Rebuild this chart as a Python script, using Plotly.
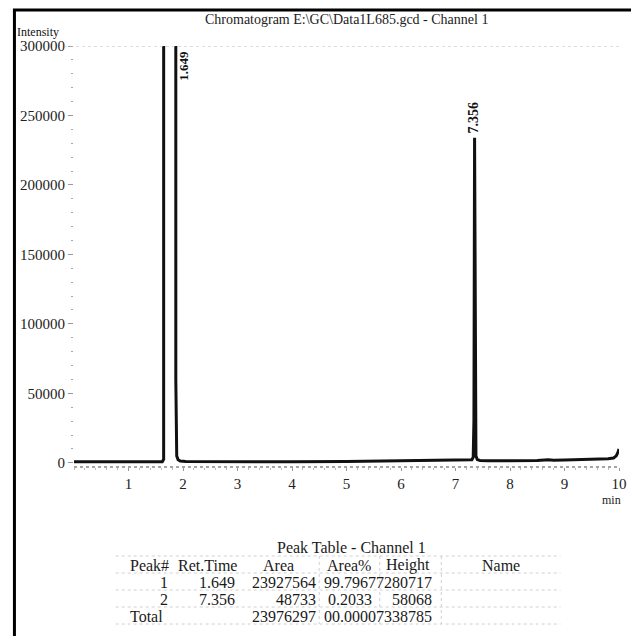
import plotly.graph_objects as go

# ---------------- data ----------------
time_min = [0.00, 0.50, 1.00, 1.40, 1.62, 1.645, 1.652, 1.70, 1.80, 1.862, 1.868, 1.874, 1.885, 1.91, 1.95, 2.05,
            2.50, 3.00, 4.00, 5.00, 6.00, 6.80, 7.20, 7.30, 7.325, 7.338, 7.350, 7.362, 7.375, 7.40, 7.45,
            7.60, 8.00, 8.50, 8.70, 8.80, 9.00, 9.50, 9.80, 9.90, 9.95, 9.98, 10.00]
intensity = [700, 700, 700, 750, 800, 2500, 7280717, 7280717, 7280717, 7280717, 60000, 14000, 5000, 2200, 1300, 900,
             800, 700, 800, 1000, 1300, 1700, 2000, 2200, 4000, 30000, 234000, 30000, 5000, 2300, 1700,
             1500, 1500, 1700, 2200, 1900, 2000, 2400, 3000, 3500, 5000, 7500, 10000]

peak_rt = [1.649, 7.356]
peak_labels = ["1.649", "7.356"]
peak_label_height = [300000, 234000]

x_ticks = [1, 2, 3, 4, 5, 6, 7, 8, 9, 10]
y_ticks = [0, 50000, 100000, 150000, 200000, 250000, 300000]

chart_title = r"Chromatogram E:\GC\Data1L685.gcd - Channel 1"
table_title = "Peak Table - Channel 1"
table_headers = ["Peak#", "Ret.Time", "Area", "Area%", "Height", "Name"]
peak_no = ["1", "2", "Total"]
ret_time = ["1.649", "7.356", ""]
area = ["23927564", "48733", "23976297"]
area_pct = ["99.7967", "0.2033", "00.0000"]
height = ["7280717", "58068", "7338785"]

# ---------------- layout geometry ----------------
OFF = 8                      # page body margin of the html page
W, H = 639 - OFF, 636 - OFF
L, R, T, B = 70 - OFF, 20, 46 - OFF, 169
PW, PH = W - L - R, H - T - B
FONT = "Liberation Serif, Times New Roman, serif"


def px(xp):
    # page pixel x -> paper coordinate
    return (xp - OFF - L) / PW


def py(yp):
    # page pixel y -> paper coordinate
    return (H - B - (yp - OFF)) / PH


fig = go.Figure()
fig.add_trace(go.Scatter(x=time_min, y=intensity, mode="lines",
                         line=dict(color="#111111", width=3), hoverinfo="skip",
                         showlegend=False))

ann = []
ann.append(dict(text=chart_title, x=px(345), y=py(19), xref="paper", yref="paper",
                showarrow=False, font=dict(size=14, color="#222"), xanchor="center", yanchor="middle"))
ann.append(dict(text="Intensity", x=px(11), y=py(32), xref="paper", yref="paper",
                showarrow=False, font=dict(size=12, color="#111"), xanchor="left", yanchor="middle"))
ann.append(dict(text="min", x=10, y=py(500), xref="x", yref="paper", xshift=-8,
                showarrow=False, font=dict(size=12, color="#222"), xanchor="center", yanchor="middle"))

# peak labels (rotated)
ann.append(dict(text="<b>%s</b>" % peak_labels[0], x=peak_rt[0], y=peak_label_height[0], xref="x", yref="y",
                xshift=19, yshift=-3, textangle=-90, showarrow=False,
                font=dict(size=13, color="#111"), xanchor="center", yanchor="top"))
ann.append(dict(text="<b>%s</b>" % peak_labels[1], x=peak_rt[1], y=peak_label_height[1], xref="x", yref="y",
                xshift=-1, yshift=2, textangle=-90, showarrow=False,
                font=dict(size=14, color="#111"), xanchor="center", yanchor="bottom"))

# peak table
tf = dict(size=16, color="#1a1a1a")
ann.append(dict(text=table_title, x=px(350), y=py(547), xref="paper", yref="paper",
                showarrow=False, font=tf, xanchor="center", yanchor="middle"))
header_x = [146, 204, 276, 347, 406, 500]
for h, hx in zip(table_headers, header_x):
    ann.append(dict(text=h, x=px(hx), y=py(565), xref="paper", yref="paper",
                    showarrow=False, font=tf, xanchor="center", yanchor="middle"))
row_y = [582, 599, 616]
for i, yv in enumerate(row_y):
    if peak_no[i] == "Total":
        ann.append(dict(text=peak_no[i], x=px(124), y=py(yv), xref="paper", yref="paper",
                        showarrow=False, font=tf, xanchor="left", yanchor="middle"))
    else:
        ann.append(dict(text=peak_no[i], x=px(167), y=py(yv), xref="paper", yref="paper",
                        showarrow=False, font=tf, xanchor="right", yanchor="middle"))
    for txt, cx, anc in [(ret_time[i], 234, "right"), (area[i], 316, "right"),
                         (area_pct[i], 348, "center"), (height[i], 433, "right")]:
        if txt:
            ann.append(dict(text=txt, x=px(cx), y=py(yv), xref="paper", yref="paper",
                            showarrow=False, font=tf, xanchor=anc, yanchor="middle"))

shapes = []
# outer frame (right/bottom edges fall outside the page)
shapes.append(dict(type="rect", xref="paper", yref="paper", x0=px(10), x1=px(660), y0=py(660), y1=py(10),
                   line=dict(color="#000", width=3), fillcolor="rgba(0,0,0,0)"))
# dotted x axis line
shapes.append(dict(type="line", xref="paper", yref="paper", x0=0, x1=1, y0=0, y1=0,
                   line=dict(color="#888", width=1.5, dash="dot")))
# faint top gridline
shapes.append(dict(type="line", xref="paper", yref="y", x0=px(60), x1=1, y0=300000, y1=300000,
                   line=dict(color="#bbb", width=1, dash="dot")))
# faint table grid
for yl in [556, 573, 590, 607, 624]:
    shapes.append(dict(type="line", xref="paper", yref="paper", x0=px(112), x1=px(560), y0=py(yl), y1=py(yl),
                       line=dict(color="#d0d0d0", width=1, dash="dot")))
for xl in [317, 378, 440]:
    shapes.append(dict(type="line", xref="paper", yref="paper", x0=px(xl), x1=px(xl), y0=py(556), y1=py(624),
                       line=dict(color="#d0d0d0", width=1, dash="dot")))

fig.update_layout(
    width=W, height=H,
    margin=dict(l=L, r=R, t=T, b=B, pad=0),
    paper_bgcolor="white", plot_bgcolor="white",
    font=dict(family=FONT, color="#222"),
    annotations=ann, shapes=shapes,
    xaxis=dict(range=[0, 10], tickvals=x_ticks, ticktext=[str(v) for v in x_ticks],
               showgrid=False, zeroline=False, showline=False,
               ticks="outside", ticklen=3, tickcolor="#999", tickwidth=1,
               tickfont=dict(size=15, color="#222"),
               minor=dict(ticks="outside", ticklen=2, tickcolor="#bbb", dtick=0.2)),
    yaxis=dict(range=[-3000, 300000], tickvals=y_ticks, ticktext=[str(v) for v in y_ticks],
               showgrid=False, zeroline=False, showline=False,
               ticks="outside", ticklen=5, tickcolor="#999", tickwidth=1,
               tickfont=dict(size=15, color="#222"),
               minor=dict(ticks="outside", ticklen=2, tickcolor="#aaa", dtick=10000)),
)

fig.write_html("out.html")
